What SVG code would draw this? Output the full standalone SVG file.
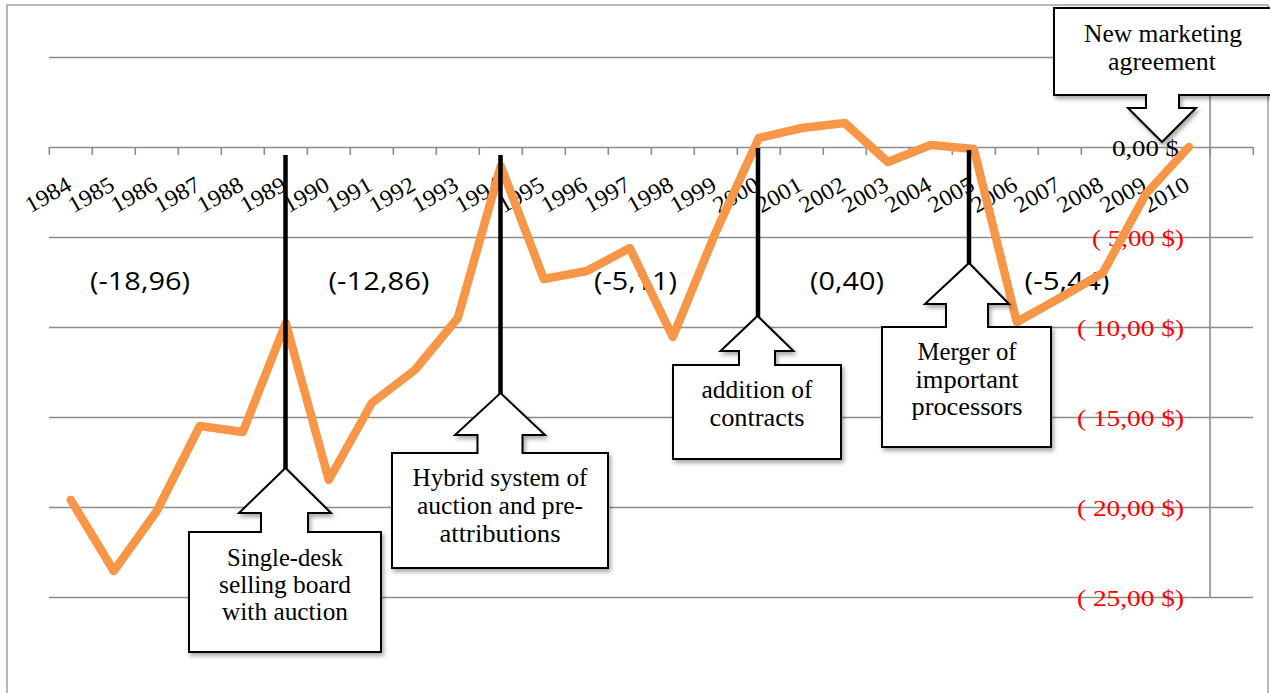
<svg xmlns="http://www.w3.org/2000/svg" width="1270" height="693" viewBox="0 0 1270 693">
<defs>
<style>
.grid{stroke:#8c8c8c;stroke-width:1.6;fill:none}
.tick{stroke:#8c8c8c;stroke-width:1.6}
.yr{font-family:"Liberation Serif",serif;font-size:23px;fill:#000;text-anchor:end}
.ylab{font-family:"Liberation Serif",serif;font-size:24px;fill:#ff0000;text-anchor:end}
.per{font-family:"Open Sans","Liberation Sans",sans-serif;font-size:25px;fill:#000;text-anchor:middle}
.box{fill:#fff;stroke:#000;stroke-width:2;filter:url(#sh)}
.bt{font-family:"Liberation Serif",serif;font-size:25px;fill:#000;text-anchor:middle}
.mark{stroke:#000;stroke-width:4.5;fill:none}
.series{stroke:#f79646;stroke-width:8.5;fill:none;stroke-linejoin:round;stroke-linecap:round}
</style>
<filter id="sh" x="-10%" y="-10%" width="130%" height="130%">
<feDropShadow dx="2" dy="3" stdDeviation="2" flood-color="#000" flood-opacity="0.35"/>
</filter>
</defs>
<rect x="0" y="0" width="1270" height="693" fill="#fff"/>
<rect x="7" y="5" width="1261" height="700" fill="none" stroke="#a0a0a0" stroke-width="1.5"/>
<g id="gridlines">
<line class="grid" x1="49" y1="57.5" x2="1253" y2="57.5"/>
<line class="grid" x1="49" y1="147.5" x2="1253" y2="147.5"/>
<line class="grid" x1="49" y1="237.5" x2="1253" y2="237.5"/>
<line class="grid" x1="49" y1="327.5" x2="1253" y2="327.5"/>
<line class="grid" x1="49" y1="417.5" x2="1253" y2="417.5"/>
<line class="grid" x1="49" y1="507.5" x2="1253" y2="507.5"/>
<line class="grid" x1="49" y1="597.5" x2="1253" y2="597.5"/>
<line class="grid" x1="1210" y1="57.5" x2="1210" y2="597.5"/>
</g>
<g id="ticks">
<line class="tick" x1="49.3" y1="147" x2="49.3" y2="155"/><line class="tick" x1="92.3" y1="147" x2="92.3" y2="155"/><line class="tick" x1="135.3" y1="147" x2="135.3" y2="155"/><line class="tick" x1="178.3" y1="147" x2="178.3" y2="155"/><line class="tick" x1="221.3" y1="147" x2="221.3" y2="155"/><line class="tick" x1="264.3" y1="147" x2="264.3" y2="155"/><line class="tick" x1="307.3" y1="147" x2="307.3" y2="155"/><line class="tick" x1="350.3" y1="147" x2="350.3" y2="155"/><line class="tick" x1="393.3" y1="147" x2="393.3" y2="155"/><line class="tick" x1="436.3" y1="147" x2="436.3" y2="155"/><line class="tick" x1="479.3" y1="147" x2="479.3" y2="155"/><line class="tick" x1="522.3" y1="147" x2="522.3" y2="155"/><line class="tick" x1="565.3" y1="147" x2="565.3" y2="155"/><line class="tick" x1="608.3" y1="147" x2="608.3" y2="155"/><line class="tick" x1="651.3" y1="147" x2="651.3" y2="155"/><line class="tick" x1="694.3" y1="147" x2="694.3" y2="155"/><line class="tick" x1="737.3" y1="147" x2="737.3" y2="155"/><line class="tick" x1="780.3" y1="147" x2="780.3" y2="155"/><line class="tick" x1="823.3" y1="147" x2="823.3" y2="155"/><line class="tick" x1="866.3" y1="147" x2="866.3" y2="155"/><line class="tick" x1="909.3" y1="147" x2="909.3" y2="155"/><line class="tick" x1="952.3" y1="147" x2="952.3" y2="155"/><line class="tick" x1="995.3" y1="147" x2="995.3" y2="155"/><line class="tick" x1="1038.3" y1="147" x2="1038.3" y2="155"/><line class="tick" x1="1081.3" y1="147" x2="1081.3" y2="155"/><line class="tick" x1="1124.3" y1="147" x2="1124.3" y2="155"/><line class="tick" x1="1167.3" y1="147" x2="1167.3" y2="155"/><line class="tick" x1="1210.3" y1="147" x2="1210.3" y2="155"/><line class="tick" x1="1253.3" y1="147" x2="1253.3" y2="155"/>
</g>
<g id="year-labels">
<text class="yr" textLength="49" lengthAdjust="spacingAndGlyphs" transform="translate(73,189) rotate(-30)">1984</text>
<text class="yr" textLength="49" lengthAdjust="spacingAndGlyphs" transform="translate(116,189) rotate(-30)">1985</text>
<text class="yr" textLength="49" lengthAdjust="spacingAndGlyphs" transform="translate(159,189) rotate(-30)">1986</text>
<text class="yr" textLength="49" lengthAdjust="spacingAndGlyphs" transform="translate(202,189) rotate(-30)">1987</text>
<text class="yr" textLength="49" lengthAdjust="spacingAndGlyphs" transform="translate(245,189) rotate(-30)">1988</text>
<text class="yr" textLength="49" lengthAdjust="spacingAndGlyphs" transform="translate(288,189) rotate(-30)">1989</text>
<text class="yr" textLength="49" lengthAdjust="spacingAndGlyphs" transform="translate(331,189) rotate(-30)">1990</text>
<text class="yr" textLength="49" lengthAdjust="spacingAndGlyphs" transform="translate(374,189) rotate(-30)">1991</text>
<text class="yr" textLength="49" lengthAdjust="spacingAndGlyphs" transform="translate(417,189) rotate(-30)">1992</text>
<text class="yr" textLength="49" lengthAdjust="spacingAndGlyphs" transform="translate(460,189) rotate(-30)">1993</text>
<text class="yr" textLength="49" lengthAdjust="spacingAndGlyphs" transform="translate(503,189) rotate(-30)">1994</text>
<text class="yr" textLength="49" lengthAdjust="spacingAndGlyphs" transform="translate(546,189) rotate(-30)">1995</text>
<text class="yr" textLength="49" lengthAdjust="spacingAndGlyphs" transform="translate(589,189) rotate(-30)">1996</text>
<text class="yr" textLength="49" lengthAdjust="spacingAndGlyphs" transform="translate(632,189) rotate(-30)">1997</text>
<text class="yr" textLength="49" lengthAdjust="spacingAndGlyphs" transform="translate(675,189) rotate(-30)">1998</text>
<text class="yr" textLength="49" lengthAdjust="spacingAndGlyphs" transform="translate(718,189) rotate(-30)">1999</text>
<text class="yr" textLength="49" lengthAdjust="spacingAndGlyphs" transform="translate(761,189) rotate(-30)">2000</text>
<text class="yr" textLength="49" lengthAdjust="spacingAndGlyphs" transform="translate(804,189) rotate(-30)">2001</text>
<text class="yr" textLength="49" lengthAdjust="spacingAndGlyphs" transform="translate(847,189) rotate(-30)">2002</text>
<text class="yr" textLength="49" lengthAdjust="spacingAndGlyphs" transform="translate(890,189) rotate(-30)">2003</text>
<text class="yr" textLength="49" lengthAdjust="spacingAndGlyphs" transform="translate(933,189) rotate(-30)">2004</text>
<text class="yr" textLength="49" lengthAdjust="spacingAndGlyphs" transform="translate(976,189) rotate(-30)">2005</text>
<text class="yr" textLength="49" lengthAdjust="spacingAndGlyphs" transform="translate(1019,189) rotate(-30)">2006</text>
<text class="yr" textLength="49" lengthAdjust="spacingAndGlyphs" transform="translate(1062,189) rotate(-30)">2007</text>
<text class="yr" textLength="49" lengthAdjust="spacingAndGlyphs" transform="translate(1105,189) rotate(-30)">2008</text>
<text class="yr" textLength="49" lengthAdjust="spacingAndGlyphs" transform="translate(1148,189) rotate(-30)">2009</text>
<text class="yr" textLength="49" lengthAdjust="spacingAndGlyphs" transform="translate(1191,189) rotate(-30)">2010</text>
</g>
<g id="value-labels">
<text x="1179" y="156" textLength="67" lengthAdjust="spacingAndGlyphs" style="font-family:'Liberation Serif',serif;font-size:24px;fill:#000;text-anchor:end">0,00 $</text>
<text class="ylab" x="1184" y="245.5" textLength="92" lengthAdjust="spacingAndGlyphs">( 5,00 $)</text>
<text class="ylab" x="1184" y="335.5" textLength="107" lengthAdjust="spacingAndGlyphs">( 10,00 $)</text>
<text class="ylab" x="1184" y="425.5" textLength="107" lengthAdjust="spacingAndGlyphs">( 15,00 $)</text>
<text class="ylab" x="1184" y="515.5" textLength="107" lengthAdjust="spacingAndGlyphs">( 20,00 $)</text>
<text class="ylab" x="1184" y="605.5" textLength="107" lengthAdjust="spacingAndGlyphs">( 25,00 $)</text>
</g>
<g id="period-labels">
<text class="per" x="140" y="290" textLength="100" lengthAdjust="spacingAndGlyphs">(-18,96)</text>
<text class="per" x="379" y="290" textLength="101" lengthAdjust="spacingAndGlyphs">(-12,86)</text>
<text class="per" x="635.5" y="290" textLength="83" lengthAdjust="spacingAndGlyphs">(-5,11)</text>
<text class="per" x="847" y="290" textLength="74" lengthAdjust="spacingAndGlyphs">(0,40)</text>
<text class="per" x="1067" y="290" textLength="85" lengthAdjust="spacingAndGlyphs">(-5,44)</text>
</g>
<g id="series">
<polyline class="series" points="70.8,500 113.8,571 156.8,511 199.8,426 242.8,432 285.8,323 328.8,480 371.8,403 414.8,370 457.8,318 500.8,166 543.8,279 586.8,271 629.8,248 672.8,337 715.8,232 758.8,138 801.8,128 844.8,123 887.8,162 930.8,145 973.8,149 1016.8,322 1059.8,298 1102.8,273 1145.8,194 1188.8,147"/>
</g>
<g id="connectors">
<line class="mark" x1="285.5" y1="155" x2="285.5" y2="470"/>
<line class="mark" x1="500.5" y1="155" x2="500.5" y2="395"/>
<line class="mark" x1="758" y1="148" x2="758" y2="318"/>
<line class="mark" x1="969" y1="150" x2="969" y2="265"/>
</g>
<g id="callout-single-desk">
<path class="box" d="M189,532 H261 V513 H239 L285.5,468 L331,513 H308 V532 H381 V652 H189 Z"/>
<text class="bt" x="285" y="566" textLength="116" lengthAdjust="spacingAndGlyphs">Single-desk</text>
<text class="bt" x="285" y="593" textLength="132" lengthAdjust="spacingAndGlyphs">selling board</text>
<text class="bt" x="285" y="620" textLength="126" lengthAdjust="spacingAndGlyphs">with auction</text>
</g>
<g id="callout-hybrid">
<path class="box" d="M392,453 H477.5 V435 H455 L500.5,393 L545,435 H522.5 V453 H608 V568 H392 Z"/>
<text class="bt" x="500" y="486" textLength="175" lengthAdjust="spacingAndGlyphs">Hybrid system of</text>
<text class="bt" x="500" y="514" textLength="166" lengthAdjust="spacingAndGlyphs">auction and pre-</text>
<text class="bt" x="500" y="542" textLength="121" lengthAdjust="spacingAndGlyphs">attributions</text>
</g>
<g id="callout-addition">
<path class="box" d="M673,365 H739 V351 H720.5 L757.5,316 L793.5,351 H775 V365 H841 V459 H673 Z"/>
<text class="bt" x="757" y="398" textLength="111" lengthAdjust="spacingAndGlyphs">addition of</text>
<text class="bt" x="757" y="426" textLength="95" lengthAdjust="spacingAndGlyphs">contracts</text>
</g>
<g id="callout-merger">
<path class="box" d="M882,327 H946 V304 H925 L969,263 L1009,304 H988 V327 H1051 V447 H882 Z"/>
<text class="bt" x="967" y="360" textLength="99" lengthAdjust="spacingAndGlyphs">Merger of</text>
<text class="bt" x="967" y="388" textLength="103" lengthAdjust="spacingAndGlyphs">important</text>
<text class="bt" x="967" y="415" textLength="111" lengthAdjust="spacingAndGlyphs">processors</text>
</g>
<g id="callout-new-marketing">
<path class="box" d="M1054,8 H1285 V95 H1179 V108 H1196 L1162,142 L1128,108 H1146 V95 H1054 Z"/>
<text class="bt" x="1163" y="42" textLength="158" lengthAdjust="spacingAndGlyphs">New marketing</text>
<text class="bt" x="1162" y="70" textLength="108" lengthAdjust="spacingAndGlyphs">agreement</text>
</g>
</svg>
